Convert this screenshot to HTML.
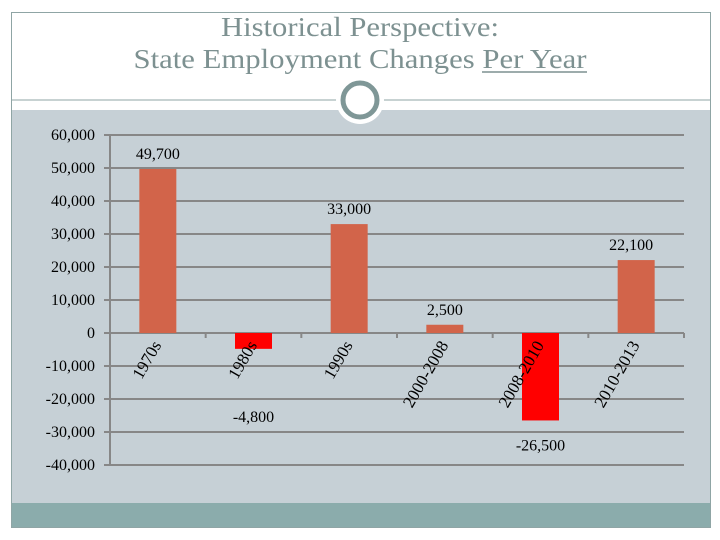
<!DOCTYPE html>
<html><head><meta charset="utf-8"><style>
html,body{margin:0;padding:0;background:#fff;}
svg{display:block;font-family:"Liberation Serif",serif;}
</style></head><body>
<svg width="720" height="540" viewBox="0 0 720 540">
<rect x="11.5" y="12.5" width="699" height="515" fill="#fff" stroke="#8fa5a5"/>
<rect x="12" y="110" width="698" height="393" fill="#c6d0d6"/>
<rect x="12" y="503" width="698" height="24" fill="#8bacac"/>
<line x1="12" y1="100" x2="710" y2="100" stroke="#8fa5a5"/>
<circle cx="360" cy="100" r="24" fill="#fff"/>
<circle cx="360" cy="100" r="17" fill="none" stroke="#7f9797" stroke-width="5"/>
<text x="360" y="36" text-anchor="middle" font-size="27" fill="#7d9191" textLength="278" lengthAdjust="spacingAndGlyphs">Historical Perspective:</text>
<text x="360" y="68" text-anchor="middle" font-size="27" fill="#7d9191" textLength="453" lengthAdjust="spacingAndGlyphs">State Employment Changes Per Year</text>
<line x1="482" y1="72" x2="587" y2="72" stroke="#7d9191" stroke-width="1.5"/>
<g id="chart"></g>
</svg>
<script>
const categories = ["1970s","1980s","1990s","2000-2008","2008-2010","2010-2013"];
const values = [49700,-4800,33000,2500,-26500,22100];
const valueLabels = ["49,700","-4,800","33,000","2,500","-26,500","22,100"];
const ticks = [60000,50000,40000,30000,20000,10000,0,-10000,-20000,-30000,-40000];
const tickLabels = ["60,000","50,000","40,000","30,000","20,000","10,000","0","-10,000","-20,000","-30,000","-40,000"];

const NS="http://www.w3.org/2000/svg";
const g=document.getElementById('chart');
const x0=110,x1=684,yTop=135,yBot=465,vMax=60000,vMin=-40000;
const y=v=>yTop+(vMax-v)/(vMax-vMin)*(yBot-yTop);
const band=(x1-x0)/categories.length;
const cx=i=>x0+band*(i+0.5);
function mk(tag,attrs,txt){const e=document.createElementNS(NS,tag);for(const k in attrs)e.setAttribute(k,attrs[k]);if(txt!==undefined)e.textContent=txt;g.appendChild(e);return e;}
ticks.forEach((t,i)=>{
  const l=mk('line',{x1:104,x2:x1,y1:y(t),y2:y(t),stroke:'#878787','stroke-width':2});
  
  
  const tx=mk('text',{x:95,y:y(t)+5,'text-anchor':'end','font-size':16,fill:'#000'},tickLabels[i]);
  
  
});
const ax=mk('line',{x1:x0,x2:x0,y1:yTop,y2:yBot,stroke:'#878787','stroke-width':2});


for(let i=0;i<=categories.length;i++){
  const tk=mk('line',{x1:x0+band*i,x2:x0+band*i,y1:y(0),y2:y(0)+5,stroke:'#878787','stroke-width':2});
  
  
}
values.forEach((v,i)=>{
  const bw=37;
  const top=Math.min(y(v),y(0)),h=Math.abs(y(v)-y(0));
  const r=mk('rect',{x:cx(i)-bw/2,y:top,width:bw,height:h,fill:v>=0?'#d2644a':'#ff0000'});
  
  
  let ly,lx=cx(i);
  if(v>=0){ly=y(v)-10;}else{ly=Math.max(y(v)+30,422);}
  if(i===categories.length-1){lx=cx(i)-5;}
  const lt=mk('text',{x:lx,y:ly,'text-anchor':'middle','font-size':16,fill:'#000'},valueLabels[i]);
  
  
  const ct=mk('text',{x:0,y:0,'text-anchor':'end','font-size':17,fill:'#000',transform:`translate(${cx(i)+4},${y(0)+12}) rotate(-60)`},categories[i]);
  
  
});
</script>
</body></html>
